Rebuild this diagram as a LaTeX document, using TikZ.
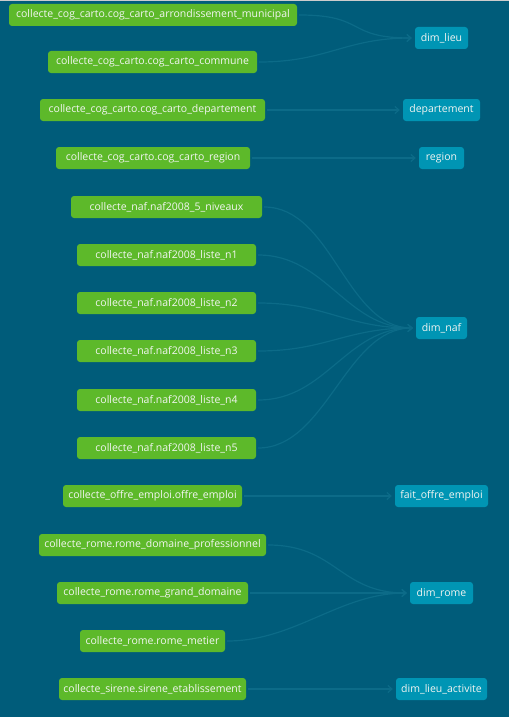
\documentclass[tikz,border=0pt]{standalone}
\usepackage{fontspec}
\setmainfont{Open Sans}
\usetikzlibrary{arrows.meta}
\definecolor{fond}{HTML}{005C7A}
\definecolor{source}{HTML}{5DB92A}
\definecolor{modele}{HTML}{0095B4}
\definecolor{lien}{HTML}{0C6B88}
\definecolor{texte}{HTML}{F2F5F2}
\tikzset{
  src/.style={rectangle, rounded corners=3pt, fill=source, text=texte,
    minimum height=22pt, inner sep=0pt, font=\fontsize{10.5}{12}\selectfont},
  mdl/.style={rectangle, rounded corners=3pt, fill=modele, text=texte,
    minimum height=22pt, inner sep=0pt, font=\fontsize{10.5}{12}\selectfont},
  lien/.style={draw=lien, line width=1.2pt, -{Straight Barb[length=4pt,width=7pt]},
    shorten <=2pt, shorten >=3pt}
}
\begin{document}
\begin{tikzpicture}[x=1pt, y=-1pt]
\fill [fond] (0,0) rectangle (509,717);
\fill [black!20] (0,0) rectangle (509,1.5);
\useasboundingbox (0,0) rectangle (509,717);

% sources
\node [src, minimum width=288pt] (arr) at (153,15) {collecte\_cog\_carto.cog\_carto\_arrondissement\_municipal};
\node [src, minimum width=209pt] (com) at (152.5,62) {collecte\_cog\_carto.cog\_carto\_commune};
\node [src, minimum width=225pt] (dep) at (152.5,110) {collecte\_cog\_carto.cog\_carto\_departement};
\node [src, minimum width=194pt] (reg) at (153,158) {collecte\_cog\_carto.cog\_carto\_region};
\node [src, minimum width=191pt] (niv) at (166.5,207) {collecte\_naf.naf2008\_5\_niveaux};
\node [src, minimum width=179pt] (n1) at (166.5,255) {collecte\_naf.naf2008\_liste\_n1};
\node [src, minimum width=179pt] (n2) at (166.5,303) {collecte\_naf.naf2008\_liste\_n2};
\node [src, minimum width=179pt] (n3) at (166.5,351) {collecte\_naf.naf2008\_liste\_n3};
\node [src, minimum width=179pt] (n4) at (166.5,400) {collecte\_naf.naf2008\_liste\_n4};
\node [src, minimum width=179pt] (n5) at (166.5,448) {collecte\_naf.naf2008\_liste\_n5};
\node [src, minimum width=179pt] (off) at (152.5,496) {collecte\_offre\_emploi.offre\_emploi};
\node [src, minimum width=227pt] (dom) at (152.5,545) {collecte\_rome.rome\_domaine\_professionnel};
\node [src, minimum width=191pt] (gd) at (152.5,593) {collecte\_rome.rome\_grand\_domaine};
\node [src, minimum width=145pt] (met) at (152.5,641) {collecte\_rome.rome\_metier};
\node [src, minimum width=187pt] (sir) at (152.5,689) {collecte\_sirene.sirene\_etablissement};

% modeles
\node [mdl, minimum width=53pt] (lieu) at (441.5,38) {dim\_lieu};
\node [mdl, minimum width=77pt] (mdep) at (441.5,110) {departement};
\node [mdl, minimum width=45pt] (mreg) at (441.5,158) {region};
\node [mdl, minimum width=51pt] (naf) at (441.5,328) {dim\_naf};
\node [mdl, minimum width=93pt] (fait) at (441.5,496) {fait\_offre\_emploi};
\node [mdl, minimum width=63pt] (rome) at (441.5,593) {dim\_rome};
\node [mdl, minimum width=91pt] (act) at (441.5,689) {dim\_lieu\_activite};

% liens
\foreach \a/\b in {arr/lieu, com/lieu, dep/mdep, reg/mreg,
                   niv/naf, n1/naf, n2/naf, n3/naf, n4/naf, n5/naf,
                   off/fait, dom/rome, gd/rome, met/rome, sir/act}
  \draw [lien] (\a.east) .. controls +(70,0) and +(-70,0) .. (\b.west);
\end{tikzpicture}
\end{document}
